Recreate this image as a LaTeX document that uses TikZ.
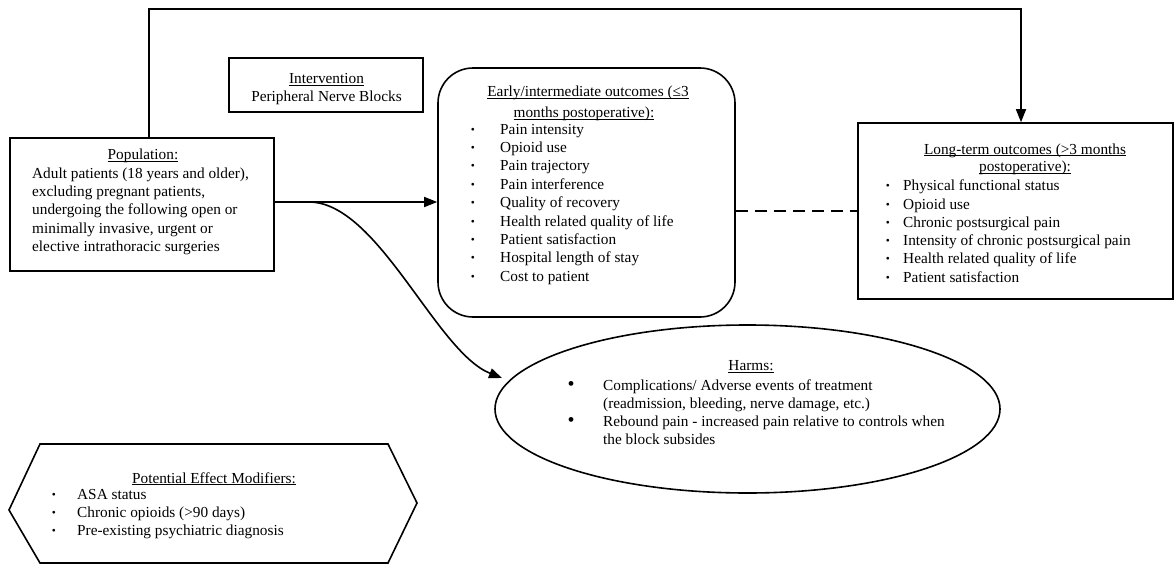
\documentclass[tikz,border=0pt]{standalone}
\usepackage{fontspec}
\setmainfont{Liberation Serif}
\usetikzlibrary{arrows.meta,shapes.geometric}
\newcommand{\myul}[1]{\setbox0\hbox{#1}\rlap{\rule[-2.2pt]{\wd0}{0.9pt}}\box0}
\begin{document}
\begin{tikzpicture}[x=1pt,y=-1pt,
 box/.style={draw, line width=1.6pt, inner sep=0},
 txt/.style={anchor=base west, inner sep=0, font=\fontsize{15.3}{18.4}\selectfont},
 ctxt/.style={anchor=base, inner sep=0, font=\fontsize{15.3}{18.4}\selectfont},
 sbul/.style={anchor=base, inner sep=0, font=\fontsize{11.5}{11.5}\selectfont},
 rbul/.style={anchor=base, inner sep=0, font=\fontsize{20}{20}\selectfont},
 conn/.style={line width=1.6pt},
 arr/.style={conn, -{Triangle[length=13pt,width=10pt]}}]
\useasboundingbox (0,0) rectangle (1176,565);
\fill[white] (0,0) rectangle (1176,565);

% boxes
\node[box, minimum width=264pt, minimum height=133pt] (pop) at (142,204.5) {};
\node[box, minimum width=194pt, minimum height=54pt] (int) at (326,85) {};
\node[box, rounded corners=35pt, minimum width=297pt, minimum height=249pt] (early) at (586.5,192.5) {};
\node[box, minimum width=315pt, minimum height=176pt] (lt) at (1015.5,211) {};
\node[box, ellipse, minimum width=505pt, minimum height=168pt] (harms) at (747.5,409) {};
\draw[line width=1.6pt] (40,444) -- (388,444) -- (417,503) -- (388,563) -- (40,563) -- (9,510) -- cycle;

% population
\node[ctxt] (popt) at (143,159.3) {\myul{Population:}};
\foreach \t [count=\i] in {{Adult patients (18 years and older),}, {excluding pregnant patients,}, {undergoing the following open or}, {minimally invasive, urgent or}, {elective intrathoracic surgeries}}
  \node[txt] (pop\i) at (32,{178+(\i-1)*18.4}) {\t};

% intervention
\node[ctxt] (intt) at (326.5,83.5) {\myul{Intervention}};
\node[ctxt] (ints) at (326.5,101) {Peripheral Nerve Blocks};

% early outcomes
\node[ctxt] (et1) at (588,96.7) {\myul{Early/intermediate outcomes (≤3}};
\node[ctxt] (et2) at (584,117.3) {\myul{months postoperative):}};
\foreach \t [count=\i] in {Pain intensity, Opioid use, Pain trajectory, Pain interference, Quality of recovery, Health related quality of life, Patient satisfaction, Hospital length of stay, Cost to patient} {
  \node[txt] (e\i) at (500,{134+(\i-1)*18.4}) {\t};
  \node[sbul] (eb\i) at (473,{133+(\i-1)*18.4}) {•};
}

% long-term outcomes
\node[ctxt] (lt1) at (1025,154) {\myul{Long-term outcomes (>3 months}};
\node[ctxt] (lt2) at (1025,171.7) {\myul{postoperative):}};
\foreach \t [count=\i] in {Physical functional status, Opioid use, Chronic postsurgical pain, Intensity of chronic postsurgical pain, Health related quality of life, Patient satisfaction} {
  \node[txt] (l\i) at (903,{190.7+(\i-1)*18.3}) {\t};
  \node[sbul] (lb\i) at (888,{189.7+(\i-1)*18.3}) {•};
}

% harms
\node[ctxt] (ht) at (751,370.8) {\myul{Harms:}};
\node[txt] (h1) at (603,390) {Complications/ Adverse events of treatment};
\node[txt] (h2) at (603,408.2) {(readmission, bleeding, nerve damage, etc.)};
\node[txt] (h3) at (603,426.4) {Rebound pain - increased pain relative to controls when};
\node[txt] (h4) at (603,444.6) {the block subsides};
\node[rbul] (hb1) at (571,390) {•};
\node[rbul] (hb2) at (571,426.4) {•};

% modifiers
\node[ctxt] (mt) at (214,483) {\myul{Potential Effect Modifiers:}};
\foreach \t [count=\i] in {ASA status, Chronic opioids (>90 days), Pre-existing psychiatric diagnosis} {
  \node[txt] (m\i) at (77,{499.3+(\i-1)*18}) {\t};
  \node[sbul] (mb\i) at (54,{498.3+(\i-1)*18}) {•};
}

% connectors
\coordinate (tl) at (149,9);
\coordinate (tr) at (1021,9);
\draw[arr] (pop.north -| tl) -- (tl) -- (tr) -- (lt.north -| tr);
\coordinate (split) at (309,202);
\draw[arr] (pop.east |- split) -- (early.west |- split);
\coordinate (hend) at (502,378);
\draw[arr] (split) .. controls (378,202) and (436,352) .. (hend);
\draw[conn, dash pattern=on 12pt off 7pt] (early.east |- lt.west) -- (lt.west);
\end{tikzpicture}
\end{document}
